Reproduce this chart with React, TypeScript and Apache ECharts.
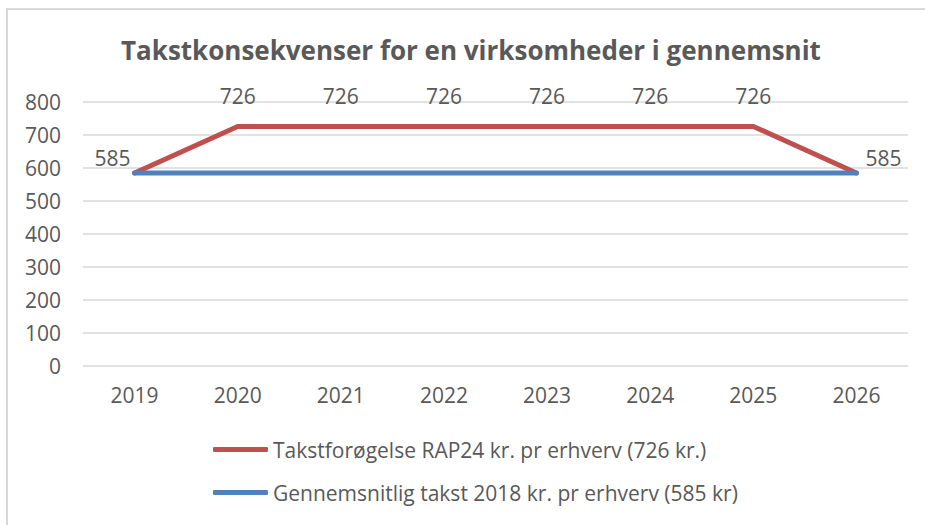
import React, { useEffect, useRef } from "react";
import * as echarts from "echarts";

const years = ["2019", "2020", "2021", "2022", "2023", "2024", "2025", "2026"];
const rapValues = [585, 726, 726, 726, 726, 726, 726, 585];
const avgValues = [585, 585, 585, 585, 585, 585, 585, 585];
const seriesNames = [
  "Takstforøgelse RAP24 kr. pr erhverv (726 kr.)",
  "Gennemsnitlig takst 2018 kr. pr erhverv (585 kr)",
];
const titleText = "Takstkonsekvenser for en virksomheder i gennemsnit";

const FONT = "'Open Sans', sans-serif";
const TEXT = "#595959";
const RED = "#c0504d";
const BLUE = "#4f81bd";

export default function App() {
  const ref = useRef<HTMLDivElement>(null);
  useEffect(() => {
    document.body.style.margin = "0";
    document.body.style.overflow = "hidden";
    document.documentElement.style.overflow = "hidden";
    if (!ref.current) return;
    const chart = echarts.init(ref.current, null, { renderer: "svg" });
    const last = rapValues.length - 1;
    chart.setOption({
      animation: false,
      textStyle: { fontFamily: FONT },
      title: {
        text: titleText,
        left: 116,
        top: 32,
        textStyle: { fontFamily: FONT, fontSize: 26, fontWeight: "bold", color: TEXT },
      },
      graphic: [
        {
          type: "polyline",
          shape: { points: [[7, 530], [7, 9], [930, 9]] },
          style: { fill: "none", stroke: "#d9d9d9", lineWidth: 2 },
          silent: true,
        },
      ],
      legend: [
        {
          data: [{ name: seriesNames[0], icon: "roundRect" }],
          left: 208,
          top: 434,
          itemWidth: 55,
          itemHeight: 5,
          textStyle: { fontFamily: FONT, fontSize: 21, color: TEXT },
        },
        {
          data: [{ name: seriesNames[1], icon: "roundRect" }],
          left: 208,
          top: 477,
          itemWidth: 55,
          itemHeight: 5,
          textStyle: { fontFamily: FONT, fontSize: 21, color: TEXT },
        },
      ],
      grid: { left: 83, right: 17, top: 102, bottom: 159, containLabel: false },
      xAxis: {
        type: "category",
        data: years,
        boundaryGap: true,
        axisLine: { show: false },
        axisTick: { show: false },
        axisLabel: { fontFamily: FONT, fontSize: 21, color: TEXT, margin: 18 },
      },
      yAxis: {
        type: "value",
        min: 0,
        max: 800,
        interval: 100,
        axisLine: { show: false },
        axisTick: { show: false },
        splitLine: { lineStyle: { color: "#d9d9d9", width: 1.5 } },
        axisLabel: { fontFamily: FONT, fontSize: 21, color: TEXT, margin: 22 },
      },
      series: [
        {
          name: seriesNames[0],
          type: "line",
          data: rapValues.map((v, i) => {
            if (i === 0) return { value: v, label: { offset: [-22, 16] } };
            if (i === last) return { value: v, label: { offset: [27, 16] } };
            return v;
          }),
          symbol: "circle",
          symbolSize: 4,
          itemStyle: { color: RED },
          lineStyle: { color: RED, width: 5, cap: "round", join: "round" },
          label: {
            show: true,
            position: "top",
            distance: 18,
            fontFamily: FONT,
            fontSize: 21,
            color: TEXT,
          },
          z: 2,
        },
        {
          name: seriesNames[1],
          type: "line",
          data: avgValues,
          symbol: "circle",
          symbolSize: 4,
          itemStyle: { color: BLUE },
          lineStyle: { color: BLUE, width: 5, cap: "round", join: "round" },
          label: { show: false },
          z: 3,
        },
      ],
    });
    return () => chart.dispose();
  }, []);
  return <div ref={ref} style={{ width: 925, height: 525 }} />;
}
